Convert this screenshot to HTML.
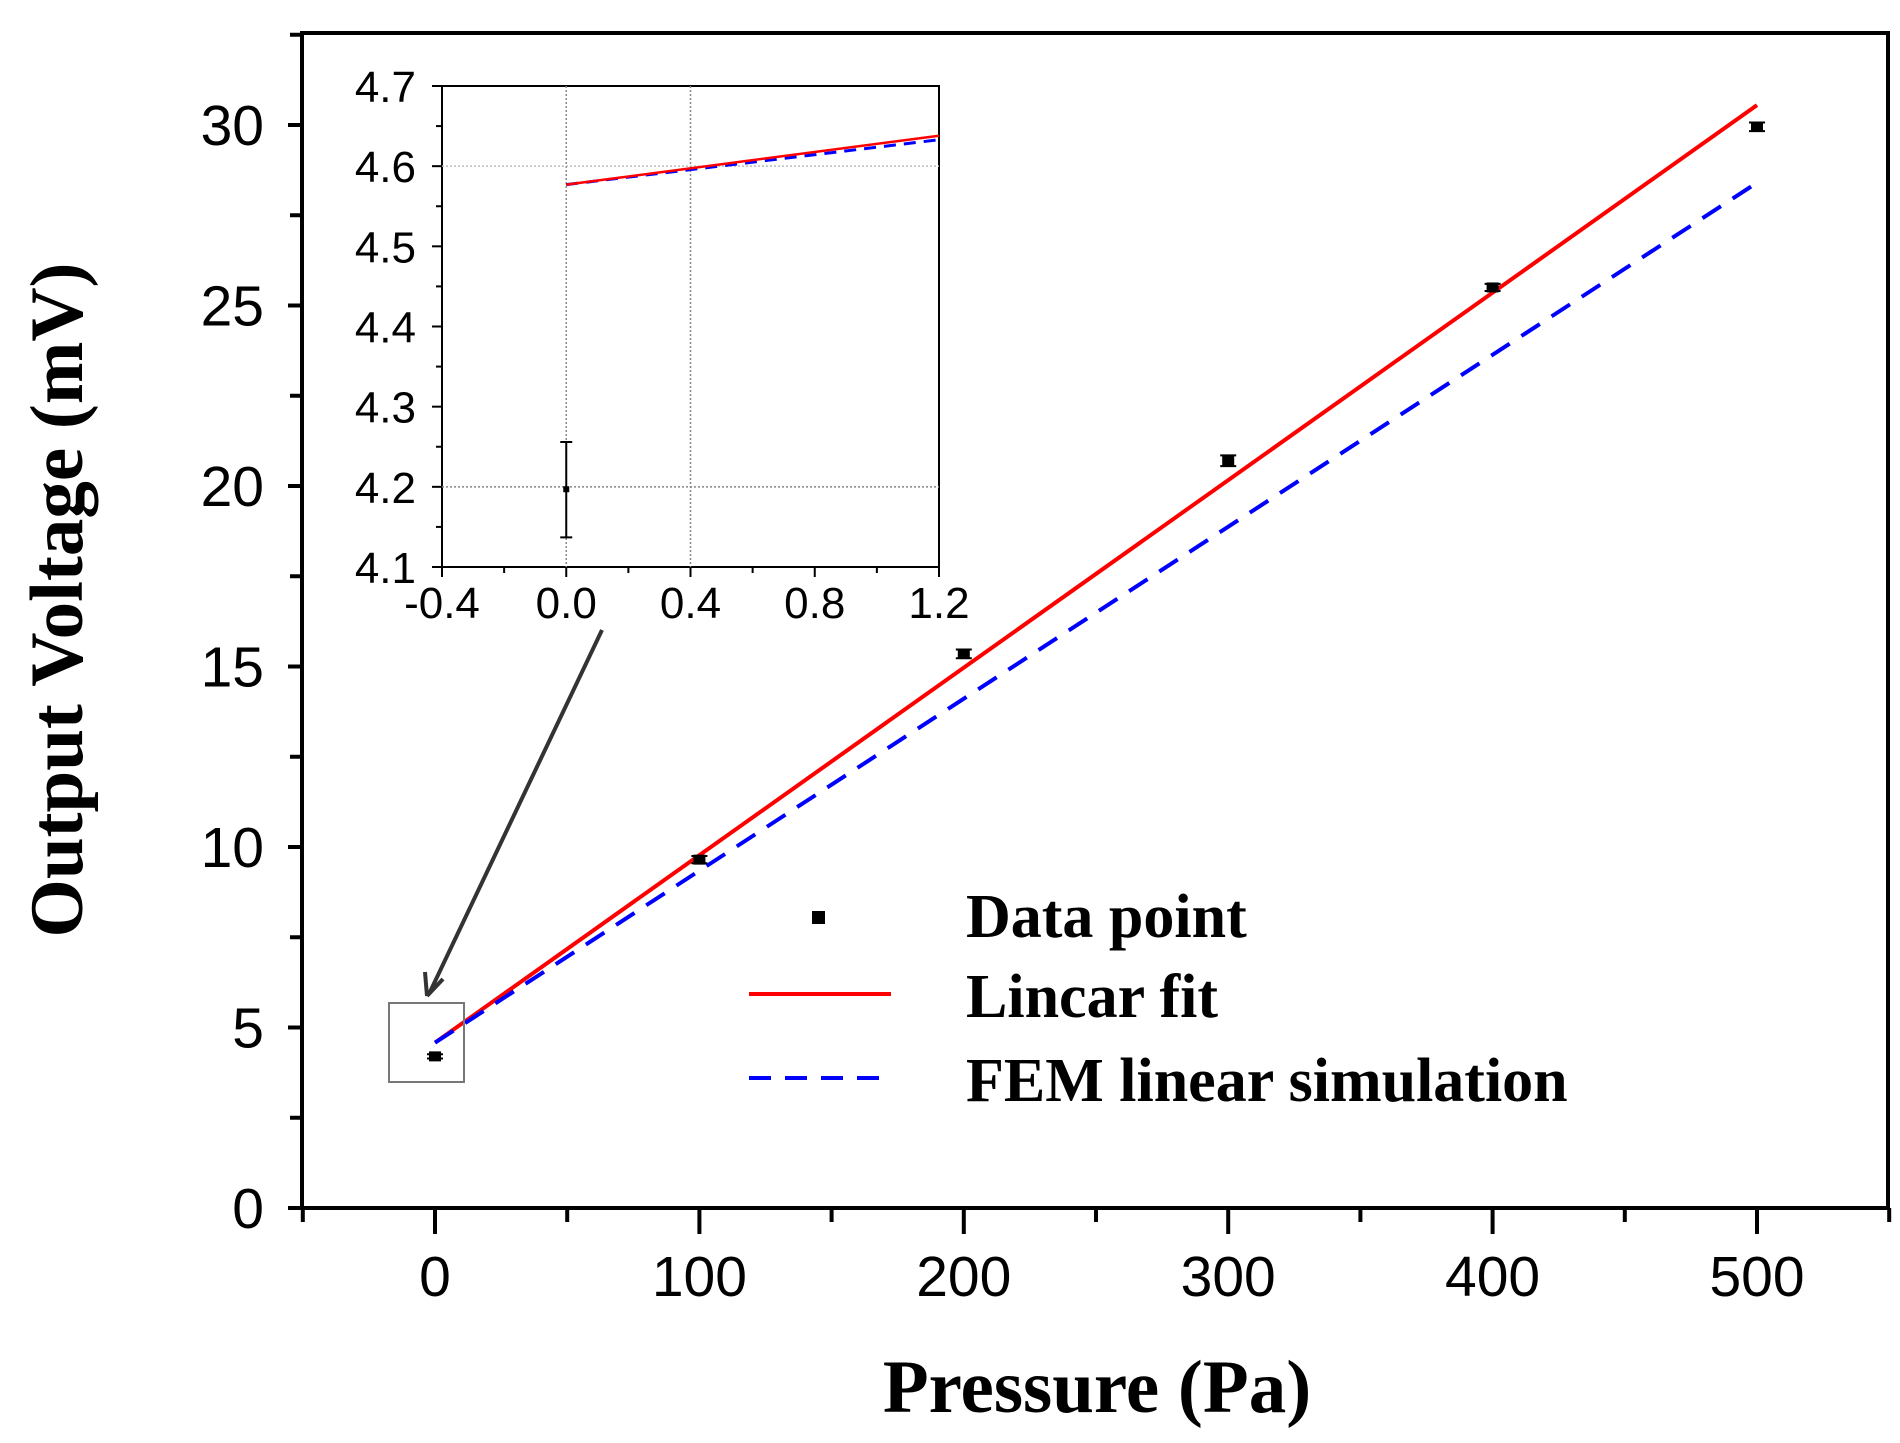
<!DOCTYPE html>
<html><head><meta charset="utf-8"><style>
html,body{margin:0;padding:0;background:#fff}
svg{display:block}
.tk{font-family:"Liberation Sans",sans-serif;font-size:57px;fill:#000}
.itk{font-family:"Liberation Sans",sans-serif;font-size:44px;fill:#000}
.ttl{font-family:"Liberation Serif",serif;font-weight:bold;font-size:75px;fill:#000}
.lg{font-family:"Liberation Serif",serif;font-weight:bold;font-size:62px;fill:#000}
</style></head><body>
<svg id="chart" width="1900" height="1443" viewBox="0 0 1900 1443" xmlns="http://www.w3.org/2000/svg">
<g id="main"></g>
<g id="inset"></g>
<g id="legend">
  <rect x="812" y="911" width="13" height="13" fill="#000"/>
  <text x="966" y="937" class="lg">Data point</text>
  <line x1="749" y1="994" x2="891" y2="994" stroke="#f00" stroke-width="4"/>
  <text x="966" y="1017" class="lg">Lincar fit</text>
  <line x1="749" y1="1078" x2="891" y2="1078" stroke="#00f" stroke-width="4" stroke-dasharray="22,14"/>
  <text x="966" y="1101" class="lg">FEM linear simulation</text>
</g>
<text x="1097" y="1412" text-anchor="middle" class="ttl">Pressure (Pa)</text>
<text transform="translate(82,600) rotate(-90)" text-anchor="middle" class="ttl">Output Voltage (mV)</text>
</svg>
<script>
const pressures=[0,100,200,300,400,500];
const voltages=[4.2,9.65,15.35,20.7,25.5,29.95];
const errors=[0.06,0.1,0.12,0.15,0.1,0.12];
const fitEnds=[4.58,30.55];
const femEnds=[4.58,28.4];
const xTicks=[0,100,200,300,400,500];
const yTicks=[0,5,10,15,20,25,30];
const insetX=[0];
const insetY=[4.197];
const insetErrLow=[4.137];
const insetErrHigh=[4.256];
const insetFit=[4.577,4.638];
const insetFem=[4.577,4.633];
const insetXTicks=["-0.4","0.0","0.4","0.8","1.2"];
const insetYTicks=["4.1","4.2","4.3","4.4","4.5","4.6","4.7"];

const NS="http://www.w3.org/2000/svg";
function mk(p,tag,a){const e=document.createElementNS(NS,tag);for(const k in a)e.setAttribute(k,a[k]);p.appendChild(e);return e;}
const X=v=>435+(v)*2.644;
const Y=v=>1208-v*36.1;
const g=document.getElementById('main');
let f=mk(g,'rect',{x:302,y:33,width:1586,height:1175,fill:'none',stroke:'#000','stroke-width':4});


for(let v=-50;v<=550;v+=50){const major=v%100===0;
 const t=mk(g,'line',{x1:X(v),y1:1208,x2:X(v),y2:1208+(major?26:14),stroke:'#000','stroke-width':4});
 
 }
xTicks.forEach(v=>{const t=mk(g,'text',{x:X(v),y:1296,'text-anchor':'middle',class:'tk'});t.textContent=v;
 
 });
for(let v=0;v<=32.5;v+=2.5){const major=v%5===0;
 const t=mk(g,'line',{x1:302,y1:Y(v),x2:302-(major?14:12),y2:Y(v),stroke:'#000','stroke-width':4});
 
 }
yTicks.forEach(v=>{const t=mk(g,'text',{x:264,y:Y(v)+20,'text-anchor':'end',class:'tk'});t.textContent=v;
 
 });
let l1=mk(g,'line',{x1:X(0),y1:Y(fitEnds[0]),x2:X(500),y2:Y(fitEnds[1]),stroke:'#f00','stroke-width':4});


let l2=mk(g,'line',{x1:X(0),y1:Y(femEnds[0]),x2:X(500),y2:Y(femEnds[1]),stroke:'#00f','stroke-width':4,'stroke-dasharray':'22,14'});


pressures.forEach((p,i)=>{const v=voltages[i];
 const e=mk(g,'path',{d:`M${X(p)},${Y(v-errors[i])}V${Y(v+errors[i])}M${X(p)-8},${Y(v-errors[i])}h16M${X(p)-8},${Y(v+errors[i])}h16`,stroke:'#000','stroke-width':2,fill:'none'});
 
 
 const r=mk(g,'rect',{x:X(p)-6,y:Y(v)-5,width:12,height:10,fill:'#000'});
 
 });
let zb=mk(g,'rect',{x:389,y:1003,width:75,height:79,fill:'none',stroke:'#777','stroke-width':2});


let ar=mk(g,'path',{d:'M602,630L429,994M427,996l-2,-24M427,996l16,-17',stroke:'#333','stroke-width':4,fill:'none'});



const gi=document.getElementById('inset');
const IX=v=>442+(v+0.4)/1.6*497;
const IY=v=>567-(v-4.1)/0.6*481;
let bg=mk(gi,'rect',{x:442,y:86,width:497,height:481,fill:'#fff',stroke:'#000','stroke-width':2});


[0,0.4].forEach(v=>{const t=mk(gi,'line',{x1:IX(v),y1:86,x2:IX(v),y2:567,stroke:'#888','stroke-width':1.5,'stroke-dasharray':'2,2'});
 
 });
[[4.2,'#888'],[4.6,'#bbb']].forEach(([v,c])=>{const t=mk(gi,'line',{x1:442,y1:IY(v),x2:939,y2:IY(v),stroke:c,'stroke-width':1.5,'stroke-dasharray':'2,2'});
 
 });
for(let i=0;i<=8;i++){const v=-0.4+i*0.2;const major=i%2===0;
 const t=mk(gi,'line',{x1:IX(v),y1:567,x2:IX(v),y2:567+(major?10:6),stroke:'#000','stroke-width':2});
 
 }
insetXTicks.forEach(s=>{const t=mk(gi,'text',{x:IX(parseFloat(s)),y:618,'text-anchor':'middle',class:'itk'});t.textContent=s;
 
 });
for(let i=0;i<=12;i++){const v=4.1+i*0.05;const major=i%2===0;
 const t=mk(gi,'line',{x1:442,y1:IY(v),x2:442-(major?10:6),y2:IY(v),stroke:'#000','stroke-width':2});
 
 }
insetYTicks.forEach(s=>{const t=mk(gi,'text',{x:416,y:IY(parseFloat(s))+16,'text-anchor':'end',class:'itk'});t.textContent=s;
 
 });
let il2=mk(gi,'line',{x1:IX(0),y1:IY(insetFem[0]),x2:IX(1.2),y2:IY(insetFem[1]),stroke:'#00f','stroke-width':3,'stroke-dasharray':'12,8'});


let il1=mk(gi,'line',{x1:IX(0),y1:IY(insetFit[0]),x2:IX(1.2),y2:IY(insetFit[1]),stroke:'#f00','stroke-width':2.5});


insetX.forEach((p,i)=>{
 const e=mk(gi,'path',{d:`M${IX(p)},${IY(insetErrLow[i])}V${IY(insetErrHigh[i])}M${IX(p)-6},${IY(insetErrLow[i])}h12M${IX(p)-6},${IY(insetErrHigh[i])}h12`,stroke:'#000','stroke-width':2,fill:'none'});
 
 
 const r=mk(gi,'rect',{x:IX(p)-3,y:IY(insetY[i])-3,width:6,height:6,fill:'#000'});
 
 });
</script>
</body></html>
